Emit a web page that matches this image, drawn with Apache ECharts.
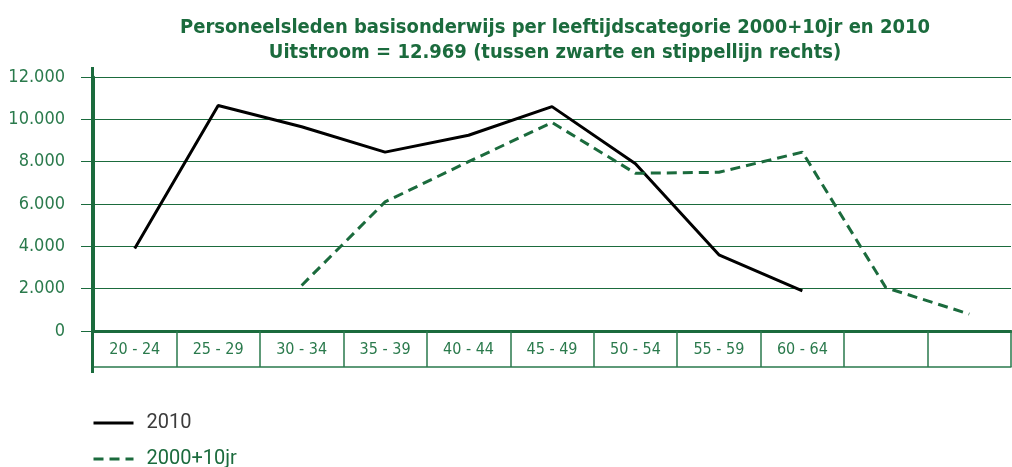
<!DOCTYPE html>
<html>
<head>
<meta charset="utf-8">
<script src="https://cdn.jsdelivr.net/npm/echarts@6/dist/echarts.min.js"></script>
<style>
  html, body { margin: 0; padding: 0; background: #fff; }
  #main { width: 1012px; height: 467px; }
</style>
</head>
<body>
<div id="main"></div>
<script>
// leeftijdscategorieen (laatste twee kolommen zijn leeg)
var categories = ['20 - 24', '25 - 29', '30 - 34', '35 - 39', '40 - 44', '45 - 49', '50 - 54', '55 - 59', '60 - 64', '', ''];
var yTicks = [0, 2000, 4000, 6000, 8000, 10000, 12000];
var data2010 = [3900, 10650, 9650, 8450, 9250, 10600, 7900, 3600, 1900, null, null];
var data2000plus10 = [null, null, 2150, 6100, 8000, 9850, 7450, 7500, 8450, 2050, 800];

var green = '#1b6b3d';
var labelGreen = '#2a7a4c';
var narrow = '"Liberation Sans Narrow", "DejaVu Sans Condensed", "Liberation Sans", sans-serif';

var chart = echarts.init(document.getElementById('main'));

function legendAt(top, name, color) {
  return {
    orient: 'vertical',
    left: 92,
    top: top,
    padding: 0,
    itemWidth: 40,
    itemHeight: 14,
    itemStyle: { opacity: 0 },
    lineStyle: { width: 3 },
    textStyle: { fontFamily: 'Roboto, sans-serif', fontSize: 20, color: color, padding: [0, 0, 0, 8] },
    data: [name]
  };
}

var option = {
  backgroundColor: '#fff',
  title: {
    text: 'Personeelsleden basisonderwijs per leeftijdscategorie 2000+10jr en 2010\nUitstroom = 12.969 (tussen zwarte en stippellijn rechts)',
    left: 550,
    textAlign: 'center',
    top: 10,
    textStyle: {
      color: green,
      fontFamily: narrow,
      fontWeight: 'bold',
      fontSize: 20,
      lineHeight: 25
    }
  },
  legend: [
    legendAt(413, '2010', '#3c3c3c'),
    legendAt(449, '2000+10jr', green)
  ],
  grid: { left: 93, right: 1, top: 77, bottom: 136 },
  xAxis: [
    {
      type: 'category',
      data: categories,
      boundaryGap: true,
      axisLine: { show: true, lineStyle: { color: green, width: 3 } },
      axisTick: { show: true, interval: 0, length: 36, lineStyle: { color: labelGreen, width: 1.5 } },
      axisLabel: { interval: 0, margin: 11, color: labelGreen, fontFamily: narrow, fontSize: 16 }
    },
    {
      type: 'category',
      data: categories,
      position: 'bottom',
      offset: 36,
      axisLine: { show: true, lineStyle: { color: labelGreen, width: 1.5 } },
      axisTick: { show: false },
      axisLabel: { show: false }
    }
  ],
  yAxis: {
    type: 'value',
    min: yTicks[0],
    max: yTicks[yTicks.length - 1],
    interval: 2000,
    axisLine: { show: true, lineStyle: { color: green, width: 3 } },
    axisTick: { show: true, length: 12, lineStyle: { color: green, width: 1 } },
    axisLabel: {
      margin: 28,
      color: labelGreen,
      fontFamily: narrow,
      fontSize: 18,
      formatter: function (v) {
        return v.toString().replace(/\B(?=(\d{3})+(?!\d))/g, '.');
      }
    },
    splitLine: { show: true, lineStyle: { color: green, width: 1 } }
  },
  series: [
    {
      name: '2010',
      type: 'line',
      data: data2010,
      symbol: 'none',
      connectNulls: false,
      lineStyle: { color: '#000', width: 3 },
      itemStyle: { color: '#000' }
    },
    {
      name: '2000+10jr',
      type: 'line',
      data: data2000plus10,
      symbol: 'none',
      connectNulls: false,
      lineStyle: { color: green, width: 3, type: [10, 6] },
      itemStyle: { color: green }
    }
  ],
  graphic: [
    // verlengde y-as boven en onder het raster
    { type: 'rect', shape: { x: 91, y: 67, width: 3, height: 306 }, style: { fill: green }, z: 10 }
  ]
};

chart.setOption(option);
</script>
</body>
</html>
